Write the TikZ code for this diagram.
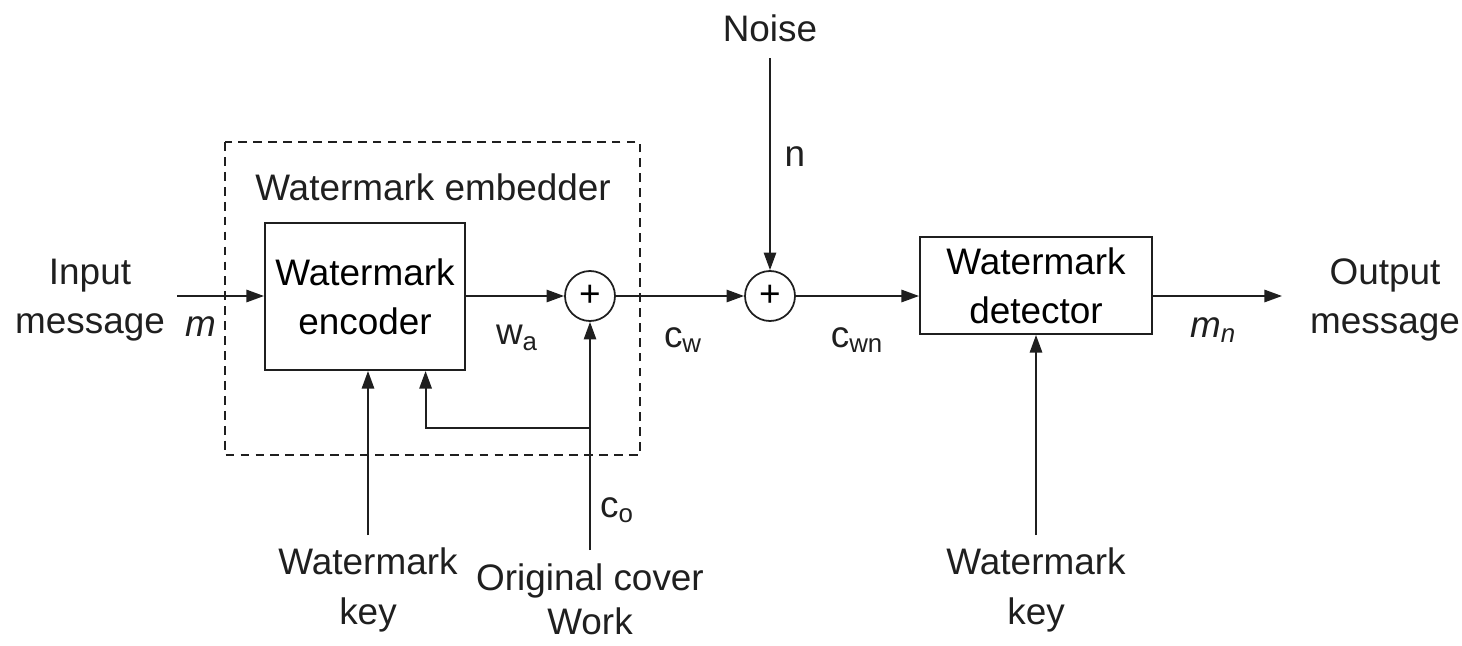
\documentclass[tikz,border=0pt]{standalone}
\usepackage{fontspec}
\setmainfont{Liberation Sans}
\usetikzlibrary{arrows.meta,positioning,calc}
\definecolor{inkgray}{gray}{0.12}
\tikzset{
  sigline/.style={-{Triangle[length=10pt,width=7pt]},line width=1.1pt,draw=inkgray},
  blockbox/.style={draw=inkgray,line width=1.1pt,align=center,inner sep=0pt},
  adder/.style={draw=inkgray,circle,line width=1pt,minimum size=1cm,inner sep=0pt},
  embframe/.style={draw=inkgray,line width=1.1pt,dash pattern=on 5pt off 3.5pt},
  lbl/.style={align=center,inner sep=0pt,text=inkgray},
}

\begin{document}
\begin{tikzpicture}[font=\fontsize{21}{28}\selectfont]
        \useasboundingbox (0,0) rectangle (29.24,-12.9);
        % embedder frame and its parts
        \draw[embframe] (4.5,-2.84) rectangle (12.8,-9.1);
        \node[lbl] (embtxt) at (8.66,-3.74) {Watermark embedder};
        \node[blockbox,minimum width=4cm,minimum height=2.94cm] (enc) at (7.3,-5.93) {Watermark\\encoder};
        \node[adder] (add1) at (11.8,-5.92) {+};
        \node[adder] (add2) at (15.4,-5.92) {+};
        \node[blockbox,minimum width=4.64cm,minimum height=1.94cm] (det) at (20.72,-5.71) {Watermark\\detector};
        % outside labels
        \node[lbl] (noise) at (15.4,-0.56) {Noise};
        \node[lbl] (inmsg) at (1.8,-6.0) {Input\\message};
        \node[lbl] (outmsg) at (27.7,-6.0) {Output\\message};
        \node[lbl] (enckey) at (7.36,-11.8) {Watermark\\key};
        \node[lbl] (detkey) at (20.72,-11.8) {Watermark\\key};
        \node[lbl,font=\fontsize{21}{25}\selectfont] (cover) at (11.8,-11.98) {Original cover\\Work};
        \coordinate (nstart) at (15.4,-1.16);
        \coordinate (instart) at (3.54,-5.92);
        \coordinate (outend) at (25.64,-5.92);
        \coordinate (ekstart) at (7.36,-10.7);
        \coordinate (dkstart) at (20.72,-10.7);
        \coordinate (costart) at (11.8,-11.0);
        \coordinate (branch) at (11.8,-8.56);
        % signal paths
        \draw[sigline] (instart) -- (instart -| enc.west);
        \draw[sigline] (enc.east |- add1) -- (add1.west);
        \draw[sigline] (add1.east) -- (add2.west);
        \draw[sigline] (nstart) -- (add2.north);
        \draw[sigline] (add2.east) -- (add2 -| det.west);
        \draw[sigline] (add2 -| det.east) -- (outend);
        \draw[sigline] (ekstart) -- (ekstart |- enc.south);
        \draw[sigline] (costart) -- (add1.south);
        \draw[sigline] (branch) -| ($(enc.south west)!0.8!(enc.south east)$);
        \draw[sigline] (dkstart) -- (dkstart |- det.south);
        % signal names
        \node[lbl] (msym) at (4.02,-6.54) {\textit{m}};
        \node[lbl] (wa) at (10.34,-6.76) {w\textsubscript{a}};
        \node[lbl] (cw) at (13.66,-6.8) {c\textsubscript{w}};
        \node[lbl] (cwn) at (17.14,-6.8) {c\textsubscript{wn}};
        \node[lbl] (mn) at (24.26,-6.6) {\textit{m}\textsubscript{\textit{n}}};
        \node[lbl] (nsym) at (15.9,-3.14) {n};
        \node[lbl] (co) at (12.34,-10.2) {c\textsubscript{o}};
      \end{tikzpicture}
\end{document}
